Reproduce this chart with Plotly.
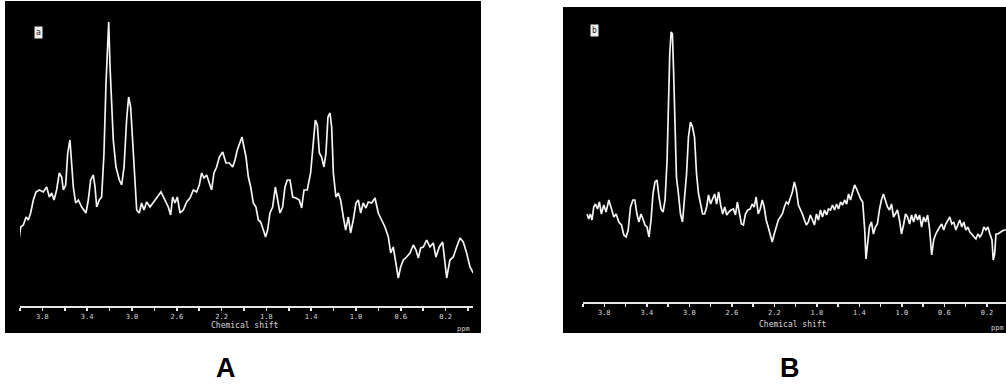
import plotly.graph_objects as go

# ---------------- data (chemical shift in ppm, signal in arbitrary units) ----------------
ppm_a = [4.015, 3.994, 3.970, 3.946, 3.926, 3.905, 3.881, 3.857, 3.827, 3.792,
         3.762, 3.738, 3.717, 3.696, 3.673, 3.649, 3.628, 3.613, 3.592, 3.574,
         3.554, 3.539, 3.524, 3.503, 3.479, 3.449, 3.411, 3.390, 3.369, 3.345,
         3.330, 3.315, 3.292, 3.271, 3.250, 3.232, 3.220, 3.208, 3.196, 3.182,
         3.167, 3.143, 3.113, 3.092, 3.071, 3.048, 3.030, 3.012, 2.994, 2.976,
         2.958, 2.935, 2.914, 2.893, 2.869, 2.839, 2.810, 2.774, 2.741, 2.705,
         2.676, 2.655, 2.637, 2.616, 2.595, 2.571, 2.542, 2.512, 2.482, 2.452,
         2.423, 2.399, 2.378, 2.357, 2.333, 2.310, 2.289, 2.268, 2.244, 2.220,
         2.190, 2.161, 2.131, 2.101, 2.080, 2.060, 2.036, 2.018, 2.000, 1.982,
         1.961, 1.940, 1.917, 1.893, 1.872, 1.851, 1.827, 1.807, 1.789, 1.768,
         1.744, 1.720, 1.699, 1.679, 1.655, 1.634, 1.613, 1.589, 1.565, 1.536,
         1.506, 1.485, 1.464, 1.435, 1.405, 1.387, 1.363, 1.345, 1.327, 1.307,
         1.286, 1.268, 1.250, 1.232, 1.217, 1.202, 1.179, 1.158, 1.137, 1.113,
         1.092, 1.068, 1.048, 1.024, 1.000, 0.979, 0.958, 0.935, 0.911, 0.890,
         0.860, 0.830, 0.801, 0.771, 0.741, 0.711, 0.690, 0.667, 0.646, 0.622,
         0.601, 0.577, 0.548, 0.518, 0.488, 0.464, 0.443, 0.423, 0.399, 0.369,
         0.339, 0.310, 0.286, 0.256, 0.226, 0.205, 0.190, 0.161, 0.131, 0.101,
         0.071, 0.042, 0.012, -0.018, -0.048]
signal_a = [61, 79, 81, 89, 86, 93, 106, 114, 116, 114,
            119, 109, 113, 106, 116, 133, 129, 116, 121, 153,
            166, 146, 119, 103, 106, 99, 93, 106, 126, 131,
            119, 99, 106, 109, 153, 223, 249, 284, 239, 209,
            166, 139, 126, 121, 139, 186, 209, 199, 166, 133,
            96, 93, 103, 96, 104, 99, 103, 109, 114, 106,
            99, 91, 109, 103, 109, 93, 96, 104, 108, 116,
            114, 121, 133, 128, 131, 123, 116, 133, 139, 149,
            154, 143, 143, 139, 146, 156, 163, 169, 159, 149,
            129, 119, 103, 99, 86, 84, 76, 69, 76, 93,
            99, 119, 106, 93, 99, 119, 126, 126, 109, 108,
            106, 98, 116, 116, 133, 159, 186, 181, 153, 149,
            139, 153, 189, 193, 179, 133, 109, 113, 106, 89,
            76, 89, 73, 86, 103, 106, 93, 103, 98, 104,
            103, 108, 93, 86, 79, 69, 53, 59, 43, 28,
            39, 46, 49, 53, 61, 56, 48, 58, 59, 66,
            59, 63, 49, 59, 64, 46, 28, 46, 49, 59,
            68, 64, 53, 39, 33]

ppm_b = [3.962, 3.946, 3.931, 3.915, 3.899, 3.883, 3.864, 3.846, 3.827, 3.805,
         3.783, 3.757, 3.732, 3.710, 3.688, 3.663, 3.638, 3.616, 3.594, 3.575,
         3.553, 3.531, 3.512, 3.493, 3.474, 3.455, 3.436, 3.417, 3.398, 3.379,
         3.360, 3.342, 3.323, 3.304, 3.285, 3.266, 3.247, 3.228, 3.209, 3.197,
         3.184, 3.171, 3.159, 3.149, 3.137, 3.121, 3.102, 3.083, 3.064, 3.045,
         3.026, 3.008, 2.989, 2.970, 2.951, 2.932, 2.913, 2.894, 2.875, 2.856,
         2.837, 2.819, 2.800, 2.781, 2.762, 2.743, 2.724, 2.705, 2.686, 2.667,
         2.648, 2.629, 2.607, 2.585, 2.566, 2.548, 2.529, 2.510, 2.491, 2.472,
         2.450, 2.428, 2.409, 2.390, 2.371, 2.352, 2.333, 2.314, 2.296, 2.277,
         2.258, 2.239, 2.220, 2.201, 2.182, 2.163, 2.144, 2.125, 2.106, 2.088,
         2.069, 2.050, 2.031, 2.012, 1.993, 1.974, 1.955, 1.936, 1.917, 1.899,
         1.880, 1.861, 1.842, 1.823, 1.804, 1.785, 1.766, 1.747, 1.728, 1.709,
         1.691, 1.672, 1.653, 1.634, 1.615, 1.596, 1.577, 1.558, 1.539, 1.520,
         1.502, 1.483, 1.464, 1.445, 1.426, 1.407, 1.388, 1.369, 1.350, 1.338,
         1.325, 1.306, 1.287, 1.268, 1.250, 1.231, 1.212, 1.193, 1.174, 1.155,
         1.136, 1.117, 1.098, 1.079, 1.060, 1.042, 1.023, 1.004, 0.985, 0.966,
         0.947, 0.928, 0.909, 0.890, 0.871, 0.853, 0.834, 0.815, 0.796, 0.777,
         0.758, 0.739, 0.720, 0.701, 0.682, 0.664, 0.645, 0.626, 0.607, 0.588,
         0.569, 0.550, 0.531, 0.512, 0.493, 0.474, 0.456, 0.437, 0.418, 0.399,
         0.380, 0.361, 0.342, 0.323, 0.304, 0.285, 0.267, 0.248, 0.229, 0.210,
         0.191, 0.172, 0.153, 0.141, 0.128, 0.115, 0.096, 0.071, 0.040, 0.008,
         -0.017]
signal_b = [88, 83, 88, 82, 95, 98, 93, 100, 88, 97,
            90, 102, 93, 85, 88, 80, 77, 67, 65, 72,
            95, 102, 102, 88, 80, 88, 83, 77, 75, 65,
            82, 108, 120, 122, 105, 93, 90, 102, 142, 188,
            248, 270, 268, 235, 178, 125, 108, 88, 80, 102,
            128, 165, 180, 175, 165, 128, 108, 98, 88, 88,
            95, 107, 98, 103, 108, 98, 110, 97, 88, 95,
            87, 90, 92, 93, 87, 100, 88, 78, 77, 88,
            92, 93, 98, 95, 105, 88, 93, 102, 95, 82,
            75, 68, 60, 68, 75, 82, 85, 88, 95, 100,
            98, 103, 110, 120, 112, 97, 93, 88, 82, 77,
            80, 87, 82, 77, 88, 82, 92, 85, 92, 87,
            93, 92, 97, 92, 98, 93, 100, 97, 102, 98,
            108, 102, 110, 117, 113, 107, 103, 100, 72, 43,
            55, 75, 80, 68, 75, 78, 92, 102, 108, 102,
            95, 92, 98, 85, 88, 92, 82, 68, 77, 88,
            85, 78, 87, 80, 88, 82, 87, 75, 85, 80,
            87, 72, 47, 62, 68, 72, 75, 78, 72, 78,
            82, 85, 78, 80, 72, 78, 82, 75, 80, 72,
            75, 70, 68, 65, 63, 68, 65, 68, 75, 72,
            75, 68, 62, 42, 48, 68, 68, 70, 72, 72,
            78]

tick_vals = [4.0, 3.8, 3.6, 3.4, 3.2, 3.0, 2.8, 2.6, 2.4, 2.2, 2.0,
             1.8, 1.6, 1.4, 1.2, 1.0, 0.8, 0.6, 0.4, 0.2, 0.0]
tick_text = ["", "3.8", "", "3.4", "", "3.0", "", "2.6", "", "2.2", "",
             "1.8", "", "1.4", "", "1.0", "", "0.6", "", "0.2", ""]
panel_tags = ["a", "b"]
panel_labels = ["A", "B"]
axis_title = "Chemical shift"
unit_label = "ppm"

# ---------------- layout helpers (pixel -> paper) ----------------
W, H = 1006, 386


def fx(p):
    return p / W


def fy(p):
    return 1 - p / H


LINE_COLOR = "#f4f4f4"
TEXT_COLOR = "#d8d8d8"
tick_font = dict(family="DejaVu Sans Mono", size=7, color=TEXT_COLOR)
small_font = dict(family="DejaVu Sans Mono", size=8, color=TEXT_COLOR)

fig = go.Figure()
fig.add_trace(go.Scatter(x=ppm_a, y=signal_a, mode="lines",
                         line=dict(color=LINE_COLOR, width=1.7),
                         xaxis="x", yaxis="y", showlegend=False, hoverinfo="skip"))
fig.add_trace(go.Scatter(x=ppm_b, y=signal_b, mode="lines",
                         line=dict(color=LINE_COLOR, width=1.7),
                         xaxis="x2", yaxis="y2", showlegend=False, hoverinfo="skip"))

xaxis_common = dict(showline=True, linecolor="#e6e6e6", linewidth=1.5,
                    ticks="outside", ticklen=3, tickwidth=1.5, tickcolor="#e6e6e6",
                    tickmode="array", tickvals=tick_vals, ticktext=tick_text,
                    tickfont=tick_font, showgrid=False, zeroline=False,
                    fixedrange=True)

fig.update_layout(
    width=W, height=H,
    margin=dict(l=0, r=0, t=0, b=0),
    paper_bgcolor="white", plot_bgcolor="rgba(0,0,0,0)",
    xaxis=dict(domain=[fx(20), fx(473)], range=[4.0, -0.045], anchor="y", **xaxis_common),
    yaxis=dict(domain=[fy(306), fy(6)], range=[0, 300], visible=False, fixedrange=True),
    xaxis2=dict(domain=[fx(583), 1.0], range=[4.0, 0.021], anchor="y2", **xaxis_common),
    yaxis2=dict(domain=[fy(302), fy(2)], range=[0, 300], visible=False, fixedrange=True),
    shapes=[
        dict(type="rect", xref="paper", yref="paper", x0=fx(5), x1=fx(481),
             y0=fy(333), y1=fy(1), fillcolor="black", line=dict(width=0), layer="below"),
        dict(type="rect", xref="paper", yref="paper", x0=fx(563), x1=1.0,
             y0=fy(333), y1=fy(7), fillcolor="black", line=dict(width=0), layer="below"),
    ],
)

ann = []
for xc, yc, tag in [(38, 33, panel_tags[0]), (594, 30, panel_tags[1])]:
    ann.append(dict(xref="paper", yref="paper", x=fx(xc), y=fy(yc), text=tag,
                    showarrow=False, xanchor="center", yanchor="middle",
                    font=dict(family="DejaVu Sans Mono", size=8, color="#222222"),
                    bgcolor="#eeeeee", borderpad=1))
for xc, yc in [(245, 325), (793, 324)]:
    ann.append(dict(xref="paper", yref="paper", x=fx(xc), y=fy(yc), text=axis_title,
                    showarrow=False, xanchor="center", yanchor="middle", font=small_font))
for xc, yc in [(463, 329), (997, 328)]:
    ann.append(dict(xref="paper", yref="paper", x=fx(xc), y=fy(yc), text=unit_label,
                    showarrow=False, xanchor="center", yanchor="middle",
                    font=dict(family="DejaVu Sans Mono", size=7, color=TEXT_COLOR)))
for xc, lab in [(226, panel_labels[0]), (790, panel_labels[1])]:
    ann.append(dict(xref="paper", yref="paper", x=fx(xc), y=fy(368), text="<b>" + lab + "</b>",
                    showarrow=False, xanchor="center", yanchor="middle",
                    font=dict(family="Liberation Sans, Arial", size=27, color="black")))
fig.update_layout(annotations=ann)

fig.write_html("out.html",
               config={"displayModeBar": False, "staticPlot": True},
               post_script="document.body.style.margin='0';document.body.style.overflow='hidden';")
